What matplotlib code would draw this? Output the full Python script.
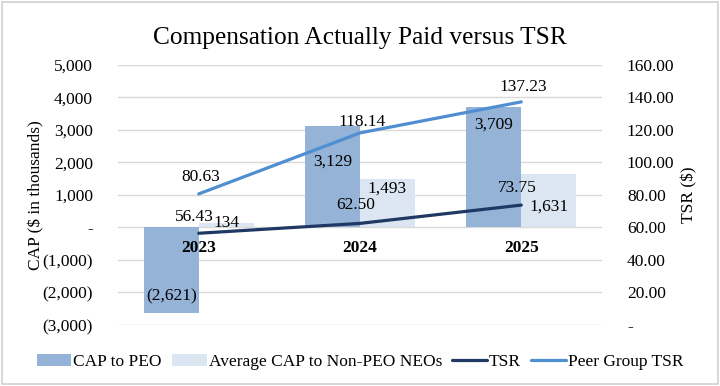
import matplotlib
matplotlib.use('Agg')
import matplotlib.pyplot as plt
from matplotlib.patches import Rectangle
from matplotlib.ticker import FuncFormatter

plt.rcParams['font.family'] = ['Liberation Serif', 'DejaVu Serif']

years = ['2023', '2024', '2025']
cap_peo = [-2621, 3129, 3709]
cap_neo = [134, 1493, 1631]
tsr = [56.43, 62.50, 73.75]
peer_tsr = [80.63, 118.14, 137.23]

# label nudges in pixels (picked to match the reference)
peo_off = [16, -36, -18]
neo_off = [0, -10, -32]
tsr_off = [16, 18, 17]
peer_off = [17, 11, 15]

c_peo = '#95b3d7'
c_neo = '#dce6f2'
c_tsr = '#1f3864'
c_peer = '#4f8fd1'
fs = 12.5

fig = plt.figure(figsize=(7.2, 3.86), dpi=100)
fig.patches.append(Rectangle((0.003, 0.005), 0.994, 0.99, transform=fig.transFigure,
                             fill=False, edgecolor='#d0d0d0', linewidth=1.2))
ax = fig.add_axes([0.164, 0.158, 0.672, 0.674])
ax2 = ax.twinx()

x = range(len(years))
w = 0.34
b1 = ax.bar([i - w / 2 for i in x], cap_peo, width=w, color=c_peo, label='CAP to PEO', zorder=2)
b2 = ax.bar([i + w / 2 for i in x], cap_neo, width=w, color=c_neo, label='Average CAP to Non-PEO NEOs', zorder=2)
l1, = ax2.plot(x, tsr, color=c_tsr, linewidth=2.3, label='TSR', solid_capstyle='round')
l2, = ax2.plot(x, peer_tsr, color=c_peer, linewidth=2.3, label='Peer Group TSR', solid_capstyle='round')

ax.set_xlim(-0.5, 2.5)
ax.set_ylim(-3000, 5000)
ax.set_yticks(range(-3000, 5001, 1000))
ax2.set_ylim(0, 160)
ax2.set_yticks(range(0, 161, 20))

def fmt_cap(v, pos):
    if v == 0:
        return '-'
    if v < 0:
        return '({:,.0f})'.format(-v)
    return '{:,.0f}'.format(v)

def fmt_tsr(v, pos):
    if v == 0:
        return '-'
    return '{:.2f}'.format(v)

ax.yaxis.set_major_formatter(FuncFormatter(fmt_cap))
ax2.yaxis.set_major_formatter(FuncFormatter(fmt_tsr))
ax.grid(axis='y', color='#d9d9d9', linewidth=1, zorder=0)
ax.set_axisbelow(True)
for a in (ax, ax2):
    for s in a.spines.values():
        s.set_visible(False)
    a.tick_params(axis='y', length=0, labelsize=fs, pad=18)
ax.set_xticks([])

ax.set_ylabel('CAP ($ in thousands)', fontsize=fs, labelpad=-1)
ax2.set_ylabel('TSR ($)', fontsize=fs, labelpad=5)

for i, yr in enumerate(years):
    ax.annotate(yr, (i, 0), xytext=(0, -21), textcoords='offset pixels',
                ha='center', va='center', fontsize=fs, fontweight='bold')

for i in x:
    v = cap_peo[i]
    ax.annotate(fmt_cap(v, None), (i - w / 2, v), xytext=(0, peo_off[i]), textcoords='offset pixels',
                ha='center', va='center', fontsize=fs, zorder=5)
    v = cap_neo[i]
    ax.annotate(fmt_cap(v, None), (i + w / 2, v), xytext=(0, neo_off[i]), textcoords='offset pixels',
                ha='center', va='center', fontsize=fs, zorder=5)
    ax2.annotate('{:.2f}'.format(tsr[i]), (i, tsr[i]), xytext=(-4, tsr_off[i]), textcoords='offset pixels',
                 ha='center', va='center', fontsize=fs)
    ax2.annotate('{:.2f}'.format(peer_tsr[i]), (i, peer_tsr[i]), xytext=(2, peer_off[i]), textcoords='offset pixels',
                 ha='center', va='center', fontsize=fs)

fig.suptitle('Compensation Actually Paid versus TSR', y=0.93, fontsize=18.3)
fig.legend(handles=[b1, b2, l1, l2], loc='center', bbox_to_anchor=(0.5, 1 - 362 / 386), ncol=4,
           frameon=False, fontsize=fs, handlelength=2.0, handletextpad=0.1, columnspacing=0.6)

fig.savefig('out.png', dpi=100)
